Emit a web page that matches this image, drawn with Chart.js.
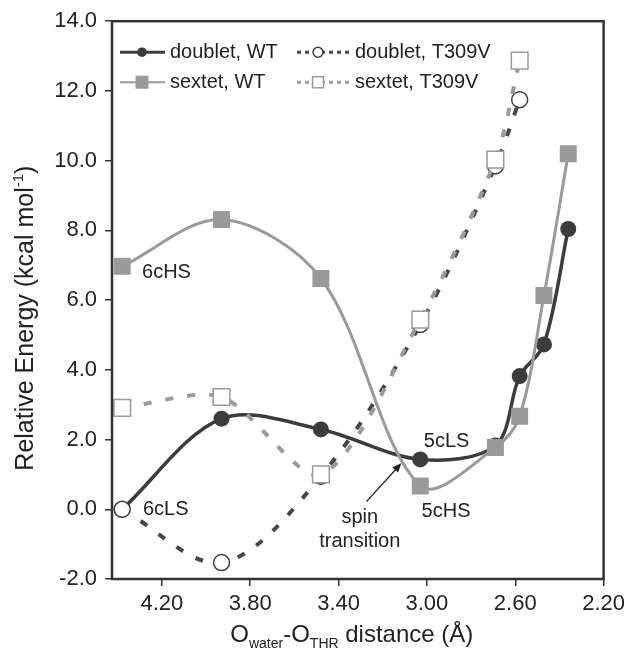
<!DOCTYPE html>
<html>
<head>
<meta charset="utf-8">
<script src="https://cdn.jsdelivr.net/npm/chart.js@4.4.1/dist/chart.umd.min.js"></script>
<style>
  html, body { margin: 0; padding: 0; background: #fff; }
  #wrap { width: 630px; height: 653px; position: relative; }
</style>
</head>
<body>
<div id="wrap"><canvas id="energyChart"></canvas></div>
<script>
// O(water)-O(THR) distances (Å)
const distWT = [4.38, 3.93, 3.48, 3.03, 2.69, 2.58, 2.47, 2.36];
const distT309V = [4.38, 3.93, 3.48, 3.03, 2.69, 2.58];

// relative energies (kcal/mol)
const doubletWT = [0.00, 2.60, 2.29, 1.43, 1.83, 3.82, 4.73, 8.04];
const sextetWT = [6.97, 8.31, 6.62, 0.67, 1.77, 2.67, 6.13, 10.20];
const doubletT309V = [0.00, -1.53, 0.95, 5.30, 9.85, 11.75];
const sextetT309V = [2.91, 3.22, 1.00, 5.44, 10.03, 12.87];

const seriesNames = ['doublet, WT', 'sextet, WT', 'doublet, T309V', 'sextet, T309V'];
const xTicks = [4.20, 3.80, 3.40, 3.00, 2.60, 2.20];
const yTicks = [-2, 0, 2, 4, 6, 8, 10, 12, 14];

// state labels, placed in data units
const notes = [
  { text: '6cHS', x: 4.29, y: 6.63, align: 'left' },
  { text: '6cLS', x: 4.286, y: -0.17, align: 'left' },
  { text: '5cLS', x: 3.014, y: 1.78, align: 'left' },
  { text: '5cHS', x: 3.024, y: -0.22, align: 'left' },
  { text: 'spin', x: 3.304, y: -0.39, align: 'center' },
  { text: 'transition', x: 3.304, y: -1.08, align: 'center' }
];
const spinArrow = { from: [3.274, 0.22], to: [3.116, 1.32] };

const FONT = '"Liberation Sans", Arial, Helvetica, sans-serif';
const DARK = '#3c3c3c';
const DARK_DASH = '#474747';
const GREY = '#9a9a9a';
const TEXT = '#222';
const SMOOTH = 0.33;

function pts(xs, ys) {
  return xs.map((x, i) => ({ x: x, y: ys[i] }));
}

// legend: Excel style, line with marker in the middle, two columns inside the plot
const legendBox = {
  id: 'legendBox',
  afterDraw(chart) {
    const ctx = chart.ctx;
    const a = chart.chartArea;
    const slots = [
      { ds: 3, x0: a.left + 8, x1: a.left + 53, mx: a.left + 30, y: a.top + 31 },
      { ds: 2, x0: a.left + 8, x1: a.left + 53, mx: a.left + 30, y: a.top + 61 },
      { ds: 1, x0: a.left + 185, x1: a.left + 238, mx: a.left + 206, y: a.top + 31 },
      { ds: 0, x0: a.left + 185, x1: a.left + 238, mx: a.left + 206, y: a.top + 61 }
    ];
    ctx.save();
    slots.forEach(s => {
      const ds = chart.data.datasets[s.ds];
      ctx.beginPath();
      ctx.setLineDash(ds.borderDash ? [4, 4] : []);
      ctx.strokeStyle = ds.borderColor;
      ctx.lineWidth = ds.legendLine;
      ctx.moveTo(s.x0, s.y);
      ctx.lineTo(s.x1, s.y);
      ctx.stroke();
      ctx.setLineDash([]);
      ctx.fillStyle = ds.pointBackgroundColor;
      ctx.strokeStyle = ds.pointBorderColor;
      ctx.lineWidth = ds.pointBorderWidth;
      Chart.helpers.drawPoint(ctx, {
        pointStyle: ds.pointStyle, rotation: 0,
        radius: ds.legendRadius, borderWidth: ds.pointBorderWidth
      }, s.mx, s.y);
      ctx.fillStyle = TEXT;
      ctx.font = '20px ' + FONT;
      ctx.textAlign = 'left';
      ctx.textBaseline = 'alphabetic';
      ctx.fillText(ds.label, s.x1 + 5, s.y + 6);
    });
    ctx.restore();
  }
};

// frame, state labels, arrow and axis titles with sub/superscripts
const decorations = {
  id: 'decorations',
  afterDraw(chart) {
    const ctx = chart.ctx;
    const a = chart.chartArea;
    const xs = chart.scales.x, ys = chart.scales.y;
    ctx.save();

    ctx.strokeStyle = '#333';
    ctx.lineWidth = 2.5;
    ctx.strokeRect(a.left, a.top, a.right - a.left, a.bottom - a.top);

    ctx.fillStyle = TEXT;
    ctx.font = '20px ' + FONT;
    ctx.textBaseline = 'alphabetic';
    notes.forEach(n => {
      ctx.textAlign = n.align;
      ctx.fillText(n.text, xs.getPixelForValue(n.x), ys.getPixelForValue(n.y));
    });

    const x0 = xs.getPixelForValue(spinArrow.from[0]), y0 = ys.getPixelForValue(spinArrow.from[1]);
    const x1 = xs.getPixelForValue(spinArrow.to[0]), y1 = ys.getPixelForValue(spinArrow.to[1]);
    const ang = Math.atan2(y1 - y0, x1 - x0);
    ctx.strokeStyle = TEXT;
    ctx.lineWidth = 1.3;
    ctx.beginPath();
    ctx.moveTo(x0, y0);
    ctx.lineTo(x1 - 6 * Math.cos(ang), y1 - 6 * Math.sin(ang));
    ctx.stroke();
    ctx.beginPath();
    ctx.moveTo(x1, y1);
    ctx.lineTo(x1 - 9 * Math.cos(ang) + 4 * Math.sin(ang), y1 - 9 * Math.sin(ang) - 4 * Math.cos(ang));
    ctx.lineTo(x1 - 9 * Math.cos(ang) - 4 * Math.sin(ang), y1 - 9 * Math.sin(ang) + 4 * Math.cos(ang));
    ctx.closePath();
    ctx.fill();

    const runs = (parts, cx, base) => {
      let w = 0;
      parts.forEach(p => { ctx.font = p.size + 'px ' + FONT; w += ctx.measureText(p.t).width; });
      let x = cx - w / 2;
      ctx.textAlign = 'left';
      parts.forEach(p => {
        ctx.font = p.size + 'px ' + FONT;
        ctx.fillText(p.t, x, base + (p.dy || 0));
        x += ctx.measureText(p.t).width;
      });
    };

    runs([
      { t: 'O', size: 24 }, { t: 'water', size: 14, dy: 6 },
      { t: '-O', size: 24 }, { t: 'THR', size: 14, dy: 6 },
      { t: ' distance (Å)', size: 24 }
    ], (a.left + a.right) / 2 - 6, chart.height - 11);

    ctx.translate(33, (a.top + a.bottom) / 2 + 18);
    ctx.rotate(-Math.PI / 2);
    runs([
      { t: 'Relative Energy (kcal mol', size: 25 },
      { t: '-1', size: 15, dy: -10 },
      { t: ')', size: 25 }
    ], 0, 0);

    ctx.restore();
  }
};

const ctx1 = document.getElementById('energyChart').getContext('2d');
const energyChart = new Chart(ctx1, {
  type: 'line',
  data: {
    datasets: [
      {
        label: seriesNames[3],
        data: pts(distT309V, sextetT309V),
        borderColor: GREY, borderWidth: 4, borderDash: [8, 14],
        pointStyle: 'rect', pointRadius: 11.8,
        pointBackgroundColor: '#fff', pointBorderColor: GREY, pointBorderWidth: 1.5,
        legendRadius: 7.8, legendLine: 3,
        tension: 0.28, order: 0
      },
      {
        label: seriesNames[2],
        data: pts(distT309V, doubletT309V),
        borderColor: DARK_DASH, borderWidth: 4, borderDash: [8, 14],
        pointStyle: 'circle', pointRadius: 8,
        pointBackgroundColor: '#fff', pointBorderColor: DARK, pointBorderWidth: 1.5,
        legendRadius: 5, legendLine: 3,
        tension: SMOOTH, order: 1
      },
      {
        label: seriesNames[1],
        data: pts(distWT, sextetWT),
        borderColor: GREY, borderWidth: 3,
        pointStyle: 'rect', pointRadius: 12,
        pointBackgroundColor: GREY, pointBorderColor: GREY, pointBorderWidth: 0,
        legendRadius: 9.2, legendLine: 2,
        tension: SMOOTH, order: 2
      },
      {
        label: seriesNames[0],
        data: pts(distWT, doubletWT),
        borderColor: DARK, borderWidth: 3.5,
        pointStyle: 'circle', pointRadius: doubletWT.map((v, i) => i === 0 ? 0 : 8),
        pointBackgroundColor: DARK, pointBorderColor: DARK, pointBorderWidth: 0,
        legendRadius: 4.8, legendLine: 3,
        tension: SMOOTH, order: 3
      }
    ]
  },
  options: {
    responsive: true,
    maintainAspectRatio: false,
    animation: false,
    layout: { padding: { left: 0, top: 21, right: 26, bottom: 0 } },
    plugins: {
      legend: { display: false },
      tooltip: { enabled: false }
    },
    scales: {
      x: {
        type: 'linear',
        reverse: true,
        min: 2.2,
        max: 4.426,
        afterBuildTicks: s => { s.ticks = xTicks.map(v => ({ value: v })); },
        afterFit: s => { s.height = 74; },
        grid: { drawOnChartArea: false, drawTicks: true, tickLength: 7, color: '#333', lineWidth: 1.5 },
        border: { display: false },
        ticks: {
          autoSkip: false, maxRotation: 0, padding: 5, color: TEXT,
          font: { family: FONT, size: 22 },
          callback: v => v.toFixed(2)
        }
      },
      y: {
        min: -2,
        max: 14,
        afterBuildTicks: s => { s.ticks = yTicks.map(v => ({ value: v })); },
        afterFit: s => { s.width = 112; },
        grid: { drawOnChartArea: false, drawTicks: true, tickLength: 7, color: '#333', lineWidth: 1.5 },
        border: { display: false },
        ticks: {
          padding: 8, color: TEXT,
          font: { family: FONT, size: 22 },
          callback: v => v.toFixed(1)
        }
      }
    }
  },
  plugins: [legendBox, decorations]
});
</script>
</body>
</html>
